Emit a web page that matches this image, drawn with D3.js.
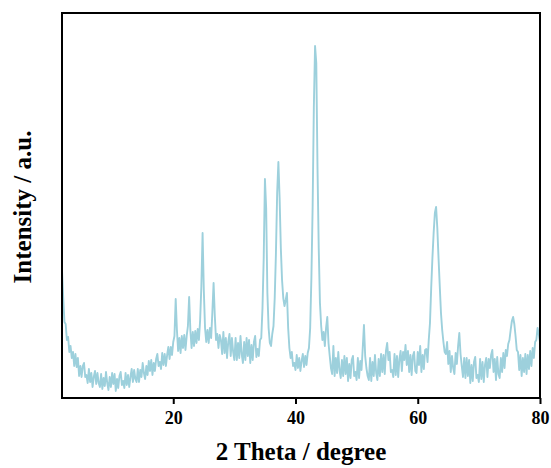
<!DOCTYPE html>
<html>
<head>
<meta charset="utf-8">
<script src="https://cdn.jsdelivr.net/npm/d3@7"></script>
<style>
  body { margin: 0; background: white; }
</style>
</head>
<body>
<div id="my_dataviz"></div>
<script>

    // XRD pattern, 2 theta grid (degree)
    const thetaStart = 1.8;
    const thetaStep = 0.2;

    // intensity (a.u.), one row = 2 degree
    const intensity = [
      128,100,76,74,58,61,46,52,40,46,
      32,44,31,40,22,32,21,32,35,21,
      23,15,29,16,25,11,21,27,14,25,
      15,11,24,9,20,12,26,15,8,21,
      11,25,14,24,7,19,10,22,26,13,
      17,10,25,13,23,11,21,29,16,28,
      19,16,29,16,28,21,35,25,19,32,
      23,37,27,38,23,35,27,39,44,32,
      36,29,45,33,44,32,43,51,39,51,
      43,56,62,99,68,47,60,45,62,50,
      63,48,62,72,101,68,50,66,52,67,
      55,69,58,78,112,165,108,70,56,68,
      55,70,60,86,115,82,58,64,50,63,
      58,44,66,45,60,40,56,64,42,60,
      46,38,60,38,55,40,62,44,35,56,
      38,60,42,58,35,53,38,56,62,41,
      49,42,58,60,90,140,219,190,105,70,
      55,52,64,72,100,145,205,236,200,150,
      118,100,92,98,105,70,50,40,46,32,
      35,28,43,30,40,27,37,44,31,42,
      33,45,50,70,120,190,290,352,335,230,
      150,95,72,58,66,52,70,81,55,42,
      30,24,52,22,40,25,46,28,20,38,
      22,42,24,40,17,34,20,38,42,22,
      26,18,40,20,37,28,50,73,42,30,
      22,18,40,17,36,22,43,25,18,39,
      22,44,26,43,24,47,55,38,46,26,
      28,21,44,23,42,21,39,47,27,46,
      38,53,33,47,26,43,23,42,46,27,
      25,46,33,52,26,43,29,48,49,36,
      58,75,110,140,165,185,191,170,140,112,
      85,68,56,46,44,56,34,47,26,42,
      30,24,45,34,52,65,44,32,21,40,
      20,40,22,38,15,33,17,36,41,20,
      23,16,39,19,36,16,33,40,21,39,
      30,43,48,26,39,18,41,24,20,40,
      26,45,30,48,42,54,58,68,77,81,
      74,62,48,46,28,43,22,40,26,44,
      24,43,29,47,32,50,40,56,58,70,
      64,56
    ];

    const xTicks = [20, 40, 60, 80];
    const xDomain = [1.8, 80];
    const yDomain = [0, 385];

    const lineColor = "#9dd0dc";
    const fontFam = "'Times New Roman', 'Liberation Serif', serif";

    // set the dimensions and margins of the graph
    const margin = { top: 13, right: 11, bottom: 70, left: 62 },
      width = 551 - margin.left - margin.right,
      height = 468 - margin.top - margin.bottom;

    const data = intensity.map(function (v, i) {
      return { theta: +(thetaStart + i * thetaStep).toFixed(1), value: v };
    });

    const svg = d3.select("#my_dataviz")
      .append("svg")
      .attr("width", width + margin.left + margin.right)
      .attr("height", height + margin.top + margin.bottom)
      .append("g")
      .attr("transform", `translate(${margin.left},${margin.top})`);

    const x = d3.scaleLinear().domain(xDomain).range([0, width]);
    const y = d3.scaleLinear().domain(yDomain).range([height, 0]);

    svg.append("clipPath")
      .attr("id", "plotclip")
      .append("rect")
      .attr("width", width)
      .attr("height", height);

    // the pattern
    svg.append("path")
      .datum(data)
      .attr("clip-path", "url(#plotclip)")
      .attr("fill", "none")
      .attr("stroke", lineColor)
      .attr("stroke-width", 1.9)
      .attr("stroke-linejoin", "round")
      .attr("d", d3.line()
        .x(function (d) { return x(d.theta); })
        .y(function (d) { return y(d.value); }));

    // X axis
    const xAxis = svg.append("g")
      .attr("transform", `translate(0, ${height})`)
      .call(d3.axisBottom(x).tickValues(xTicks).tickSize(6).tickSizeOuter(0).tickPadding(7));
    xAxis.select(".domain").remove();
    xAxis.selectAll("line")
      .attr("stroke", "black")
      .attr("stroke-width", 2);
    xAxis.selectAll("text")
      .style("font-family", fontFam)
      .style("font-weight", "bold")
      .style("font-size", "18px")
      .attr("fill", "black");

    // frame
    svg.append("rect")
      .attr("width", width)
      .attr("height", height)
      .attr("fill", "none")
      .attr("stroke", "black")
      .attr("stroke-width", 2);

    // axis titles
    svg.append("text")
      .attr("x", 239)
      .attr("y", height + 62)
      .attr("text-anchor", "middle")
      .style("font-family", fontFam)
      .style("font-weight", "bold")
      .style("font-size", "25px")
      .text("2 Theta / degree");

    svg.append("text")
      .attr("transform", `translate(-31, 194) rotate(-90)`)
      .attr("text-anchor", "middle")
      .style("font-family", fontFam)
      .style("font-weight", "bold")
      .style("font-size", "25px")
      .text("Intensity / a.u.");

</script>
</body>
</html>
